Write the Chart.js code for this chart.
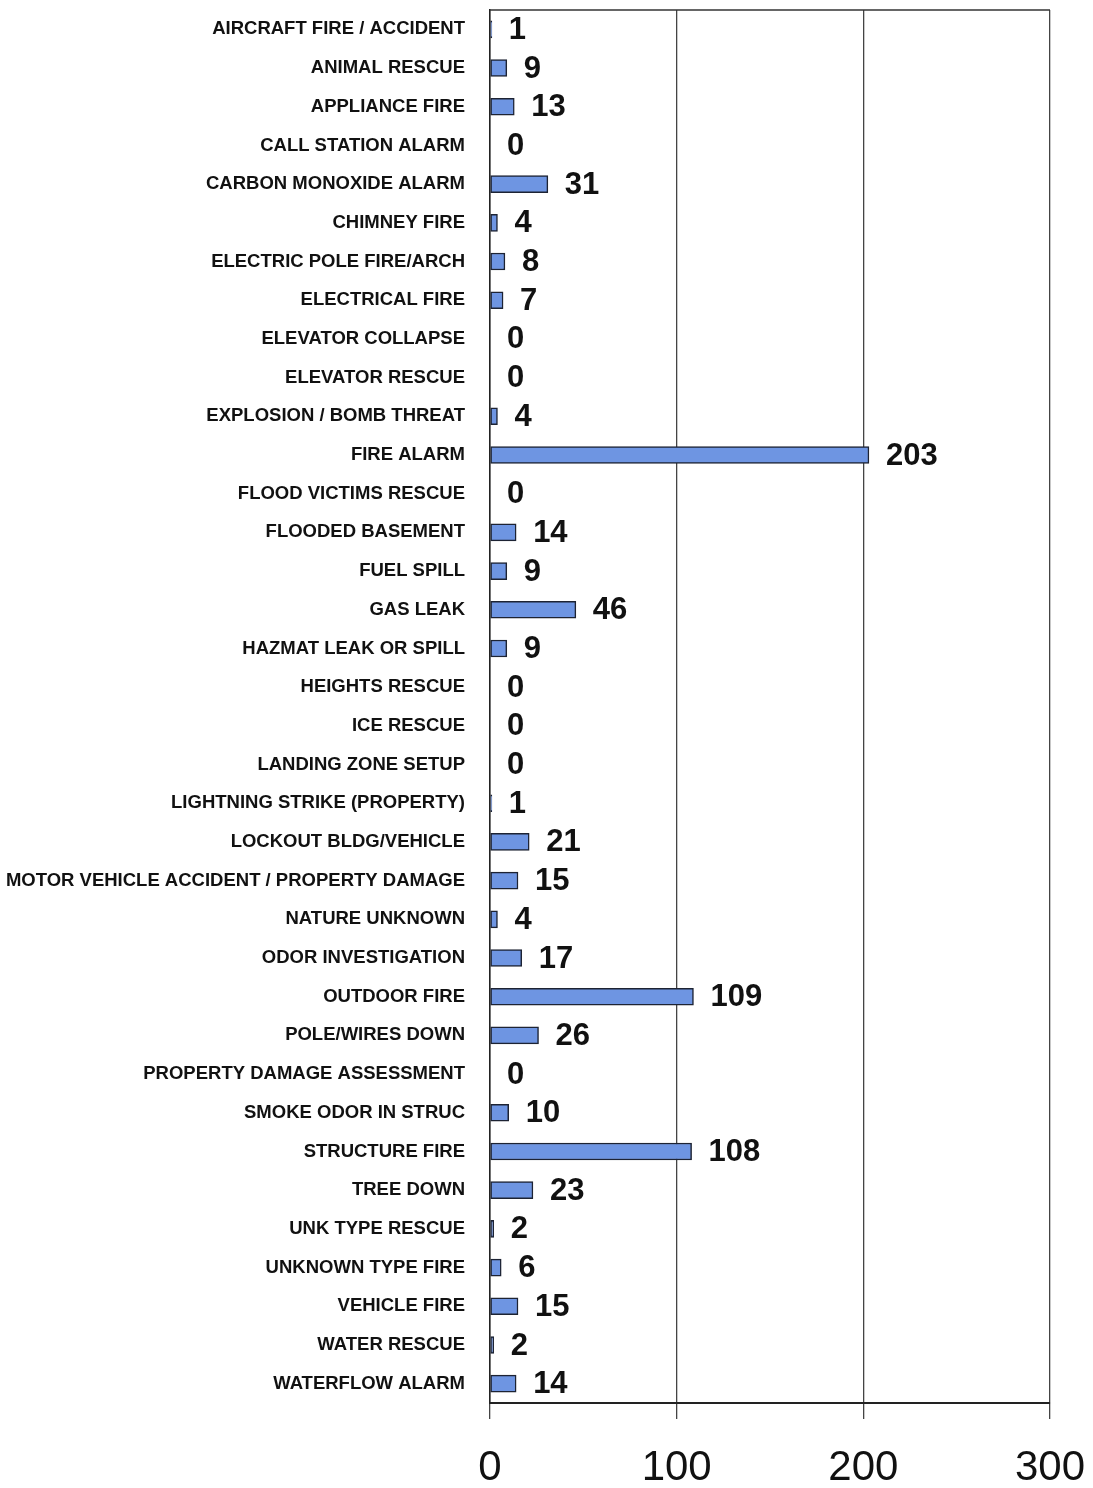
<!DOCTYPE html>
<html>
<head>
<meta charset="utf-8">
<script src="https://cdn.jsdelivr.net/npm/chart.js@4.4.0/dist/chart.umd.min.js"></script>
<style>
  html, body { margin: 0; padding: 0; background: #fff; }
  #wrap { width: 1093px; height: 1488px; }
</style>
</head>
<body>
<div id="wrap"><canvas id="graph1"></canvas></div>
<script>
var categories = [
    'AIRCRAFT FIRE / ACCIDENT', 'ANIMAL RESCUE', 'APPLIANCE FIRE', 'CALL STATION ALARM',
    'CARBON MONOXIDE ALARM', 'CHIMNEY FIRE', 'ELECTRIC POLE FIRE/ARCH', 'ELECTRICAL FIRE',
    'ELEVATOR COLLAPSE', 'ELEVATOR RESCUE', 'EXPLOSION / BOMB THREAT', 'FIRE ALARM',
    'FLOOD VICTIMS RESCUE', 'FLOODED BASEMENT', 'FUEL SPILL', 'GAS LEAK',
    'HAZMAT LEAK OR SPILL', 'HEIGHTS RESCUE', 'ICE RESCUE', 'LANDING ZONE SETUP',
    'LIGHTNING STRIKE (PROPERTY)', 'LOCKOUT BLDG/VEHICLE', 'MOTOR VEHICLE ACCIDENT / PROPERTY DAMAGE',
    'NATURE UNKNOWN', 'ODOR INVESTIGATION', 'OUTDOOR FIRE', 'POLE/WIRES DOWN',
    'PROPERTY DAMAGE ASSESSMENT', 'SMOKE ODOR IN STRUC', 'STRUCTURE FIRE', 'TREE DOWN',
    'UNK TYPE RESCUE', 'UNKNOWN TYPE FIRE', 'VEHICLE FIRE', 'WATER RESCUE', 'WATERFLOW ALARM'
];
var counts = [
    1, 9, 13, 0, 31, 4, 8, 7, 0, 0, 4, 203, 0, 14, 9, 46, 9, 0, 0, 0,
    1, 21, 15, 4, 17, 109, 26, 0, 10, 108, 23, 2, 6, 15, 2, 14
];
var xTicks = [0, 100, 200, 300];

document.addEventListener('DOMContentLoaded', function() {
    // value labels after each bar + top edge of the frame
    var valueLabels = {
        id: 'valueLabels',
        afterDatasetsDraw: function(chart) {
            var ctx = chart.ctx;
            var meta = chart.getDatasetMeta(0);
            ctx.save();
            ctx.font = 'bold 31px "Liberation Sans", Arial, sans-serif';
            ctx.fillStyle = '#111';
            ctx.textAlign = 'left';
            ctx.textBaseline = 'middle';
            meta.data.forEach(function(bar, i) {
                ctx.fillText(String(counts[i]), bar.x + 17, bar.y + 1);
            });
            var a = chart.chartArea;
            ctx.strokeStyle = '#333';
            ctx.lineWidth = 1.5;
            ctx.beginPath();
            ctx.moveTo(a.left, a.top);
            ctx.lineTo(a.right, a.top);
            ctx.stroke();
            ctx.restore();
        }
    };

    var ctx1 = document.getElementById('graph1').getContext('2d');
    var graph1 = new Chart(ctx1, {
        type: 'bar',
        data: {
            labels: categories,
            datasets: [{
                data: counts,
                backgroundColor: '#6e95e2',
                borderColor: '#1d2333',
                borderWidth: 1.5,
                borderSkipped: false,
                barThickness: 17
            }]
        },
        options: {
            indexAxis: 'y',
            responsive: true,
            maintainAspectRatio: false,
            animation: false,
            layout: { padding: { top: 10, right: 43, left: 0, bottom: 0 } },
            plugins: {
                legend: { display: false },
                tooltip: { enabled: false }
            },
            scales: {
                x: {
                    min: 0,
                    max: 300,
                    afterBuildTicks: function(scale) {
                        scale.ticks = xTicks.map(function(v) { return { value: v }; });
                    },
                    afterFit: function(scale) {
                        scale.height = 85;
                        scale.paddingLeft = 0;
                        scale.paddingRight = 0;
                    },
                    grid: {
                        color: '#444',
                        lineWidth: 1.3,
                        tickLength: 16
                    },
                    border: { display: true, color: '#222', width: 2 },
                    ticks: {
                        color: '#111',
                        padding: 24,
                        maxRotation: 0,
                        font: { family: '"Liberation Sans Narrow", "Liberation Sans", sans-serif', size: 42 }
                    }
                },
                y: {
                    afterFit: function(scale) {
                        scale.width = 490;
                        scale.paddingTop = 0;
                        scale.paddingBottom = 0;
                    },
                    grid: { display: false },
                    border: { display: true, color: '#222', width: 1.5 },
                    ticks: {
                        color: '#111',
                        padding: 17,
                        autoSkip: false,
                        font: { family: '"Liberation Sans", Arial, sans-serif', size: 18.5, weight: 'bold' }
                    }
                }
            }
        },
        plugins: [valueLabels]
    });
});
</script>
</body>
</html>
